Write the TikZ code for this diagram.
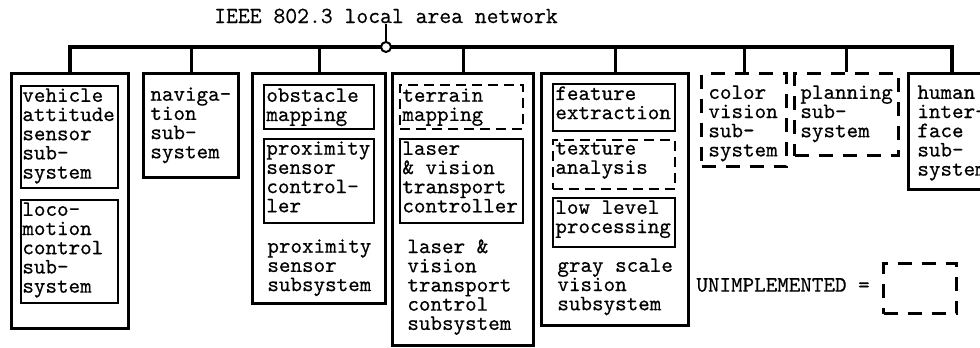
\documentclass[tikz,border=0pt]{standalone}
\usepackage{fontspec}
\newfontfamily\typewriter{Latin Modern Mono}[FakeBold=0.5]
\tikzstyle{subsystem}=[draw,line width=1.6pt,anchor=north west,inner sep=0pt]
\tikzstyle{module}=[draw,line width=0.9pt,anchor=north west,inner sep=0pt]
\tikzstyle{unimplemented}=[dash pattern=on 7pt off 5pt]
\tikzstyle{typewritten}=[anchor=north west,align=left,inner sep=0pt,
  font=\typewriter\fontsize{11}{9.6}\selectfont]
\tikzstyle{bus}=[line width=2pt]
\tikzstyle{branch}=[line width=1.5pt]

\begin{document}
\begin{tikzpicture}[x=0.5pt,y=-0.5pt]
  \useasboundingbox (0,0) rectangle (980,348);

  % Network label and tap.
  \node[typewritten,anchor=center,font=\typewriter\fontsize{11.5}{9.6}\selectfont] (lan) at (386,16) {IEEE 802.3 local area network};
  \coordinate (tap) at (386,47);

  % Subsystems.
  \node[subsystem,minimum width=58.5pt,minimum height=127.5pt] (vehicle) at (10,72) {};
  \node[subsystem,minimum width=47.5pt,minimum height=52pt] (navigation) at (142,72) {};
  \node[subsystem,minimum width=66.5pt,minimum height=115pt] (proximity) at (251,72) {};
  \node[subsystem,minimum width=70.5pt,minimum height=136pt] (laser) at (391,72) {};
  \node[subsystem,minimum width=73.5pt,minimum height=126pt] (grayscale) at (540,72) {};
  \node[subsystem,unimplemented,minimum width=42.5pt,minimum height=46.5pt] (color) at (700,72) {};
  \node[subsystem,unimplemented,minimum width=52pt,minimum height=41pt] (planning) at (793,72) {};
  \node[subsystem,minimum width=43pt,minimum height=58pt] (human) at (907,72) {};

  % Modules inside the subsystems.
  \node[module,minimum width=48.5pt,minimum height=51pt] (attitude) at (20,85) {};
  \node[module,minimum width=48.5pt,minimum height=51.5pt] (locomotion) at (20,199) {};
  \node[module,minimum width=55pt,minimum height=22pt] (obstacle) at (263,84) {};
  \node[module,minimum width=55pt,minimum height=42pt] (proxctl) at (263,138) {};
  \node[module,dash pattern=on 5pt off 3pt,minimum width=61.5pt,minimum height=22pt] (terrain) at (399,84) {};
  \node[module,minimum width=61.5pt,minimum height=42pt] (laserctl) at (399,138) {};
  \node[module,minimum width=61pt,minimum height=23.5pt] (feature) at (552,83) {};
  \node[module,dash pattern=on 5pt off 3pt,minimum width=61pt,minimum height=24.5pt] (texture) at (552,139) {};
  \node[module,minimum width=61pt,minimum height=24.5pt] (lowlevel) at (552,197) {};

  % Texts.
  \node[typewritten] (t-attitude) at (22,88) {vehicle\\attitude\\sensor\\sub-\\system};
  \node[typewritten] (t-locomotion) at (22,202) {loco-\\motion\\control\\sub-\\system};
  \node[typewritten] (t-navigation) at (150,87) {naviga-\\tion\\sub-\\system};
  \node[typewritten] (t-obstacle) at (266,88) {obstacle\\mapping};
  \node[typewritten] (t-proxctl) at (266,141) {proximity\\sensor\\control-\\ler};
  \node[typewritten] (t-proximity) at (267,239) {proximity\\sensor\\subsystem};
  \node[typewritten] (t-terrain) at (402,88) {terrain\\mapping};
  \node[typewritten] (t-laserctl) at (402,141) {laser\\\& vision\\transport\\controller};
  \node[typewritten] (t-laser) at (407,239) {laser \&\\vision\\transport\\control\\subsystem};
  \node[typewritten] (t-feature) at (555,86) {feature\\extraction};
  \node[typewritten] (t-texture) at (555,142) {texture\\analysis};
  \node[typewritten] (t-lowlevel) at (555,200) {low level\\processing};
  \node[typewritten] (t-grayscale) at (557,258) {gray scale\\vision\\subsystem};
  \node[typewritten] (t-color) at (708,85) {color\\vision\\sub-\\system};
  \node[typewritten] (t-planning) at (800,85) {planning\\sub-\\system};
  \node[typewritten] (t-human) at (917,85) {human\\inter-\\face\\sub-\\system};

  % Bus and branches.
  \draw[bus] (vehicle.north) |- (tap) -| (human.north);
  \foreach \s in {navigation,proximity,laser,grayscale,color,planning}
    \draw[branch] (\s.north |- tap) -- (\s.north);
  \draw[line width=1pt] (lan.south) -- (tap);
  \node[circle,draw,fill=white,line width=1pt,inner sep=0pt,minimum size=5pt] (tapc) at (tap) {};

  % Legend.
  \node[typewritten,anchor=west] (t-legend) at (696,285) {UNIMPLEMENTED =};
  \node[subsystem,unimplemented,minimum width=36.5pt,minimum height=25pt] (legend) at (882,262) {};
\end{tikzpicture}
\end{document}
